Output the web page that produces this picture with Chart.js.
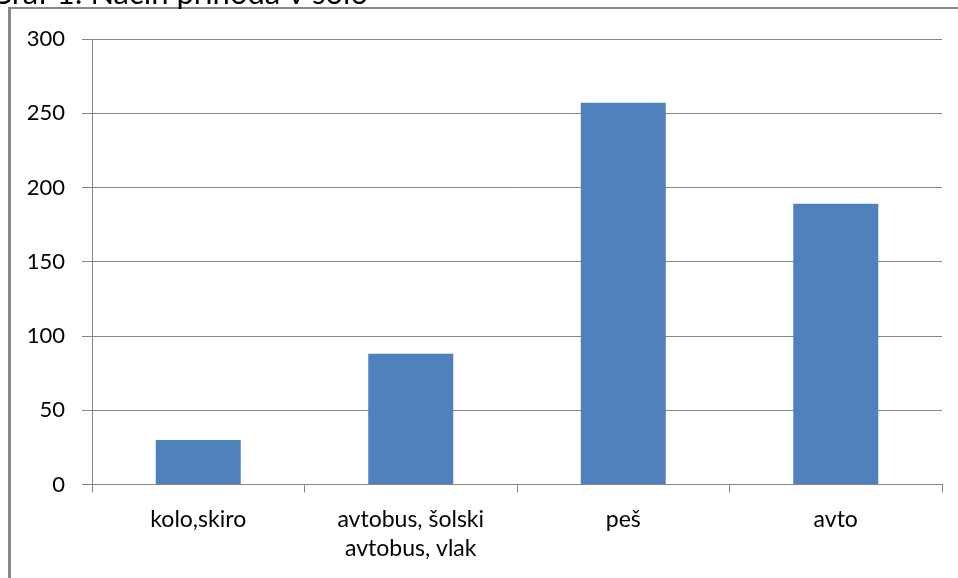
<!DOCTYPE html>
<html>
<head>
<meta charset="utf-8">
<script src="https://cdn.jsdelivr.net/npm/chart.js@4"></script>
<style>
  html, body { margin: 0; padding: 0; background: #fff; overflow: hidden; }
  #wrap { position: relative; width: 958px; height: 578px; }
  #frame { position: absolute; left: 8px; top: 7px; width: 1100px; height: 700px;
           border-left: 3px solid #888; border-top: 2px solid #888; box-sizing: border-box; }
  canvas { position: absolute; left: 0; top: 0; }
</style>
</head>
<body>
<div id="wrap">
  <div id="frame"></div>
  <canvas id="c" width="958" height="578"></canvas>
</div>
<script>
const titleText = "Graf 1: Način prihoda v šolo";
const categories = ["kolo,skiro", ["avtobus, šolski", "avtobus, vlak"], "peš", "avto"];
const values = [30, 88, 257, 189];
const yTicks = [0, 50, 100, 150, 200, 250, 300];

const FONT = "Lato, 'Open Sans', sans-serif";

const titlePlugin = {
  id: 'cutTitle',
  afterDraw(chart) {
    const ctx = chart.ctx;
    ctx.save();
    ctx.font = "31px " + FONT;
    ctx.fillStyle = "#000";
    ctx.textAlign = "right";
    ctx.textBaseline = "alphabetic";
    ctx.fillText(titleText, 368, 4);
    ctx.restore();
  }
};

new Chart(document.getElementById('c'), {
  type: 'bar',
  data: {
    labels: categories,
    datasets: [{
      data: values,
      backgroundColor: '#4F81BD',
      borderWidth: 0,
      categoryPercentage: 1.0,
      barPercentage: 0.4
    }]
  },
  options: {
    responsive: false,
    animation: false,
    devicePixelRatio: 1,
    layout: { padding: { left: 0, right: 16, top: 39, bottom: 0 } },
    plugins: { legend: { display: false }, tooltip: { enabled: false }, title: { display: false } },
    scales: {
      x: {
        offset: true,
        grid: { display: true, drawOnChartArea: false, drawTicks: true, tickLength: 8, offset: true, color: '#868686', lineWidth: 1 },
        border: { display: true, color: '#868686', width: 1 },
        ticks: { color: '#000', font: { family: FONT, size: 23, lineHeight: 1.26 }, padding: 13, maxRotation: 0, autoSkip: false },
        afterFit(scale) { scale.height = 93.5; }
      },
      y: {
        min: 0, max: 300,
        afterBuildTicks(scale) { scale.ticks = yTicks.map(v => ({ value: v })); },
        grid: { color: '#868686', lineWidth: 1, drawTicks: true, tickLength: 10 },
        border: { display: true, color: '#868686', width: 1 },
        ticks: { color: '#000', font: { family: FONT, size: 22 }, padding: 17 },
        afterFit(scale) { scale.width = 92; }
      }
    }
  },
  plugins: [titlePlugin]
});
</script>
</body>
</html>
